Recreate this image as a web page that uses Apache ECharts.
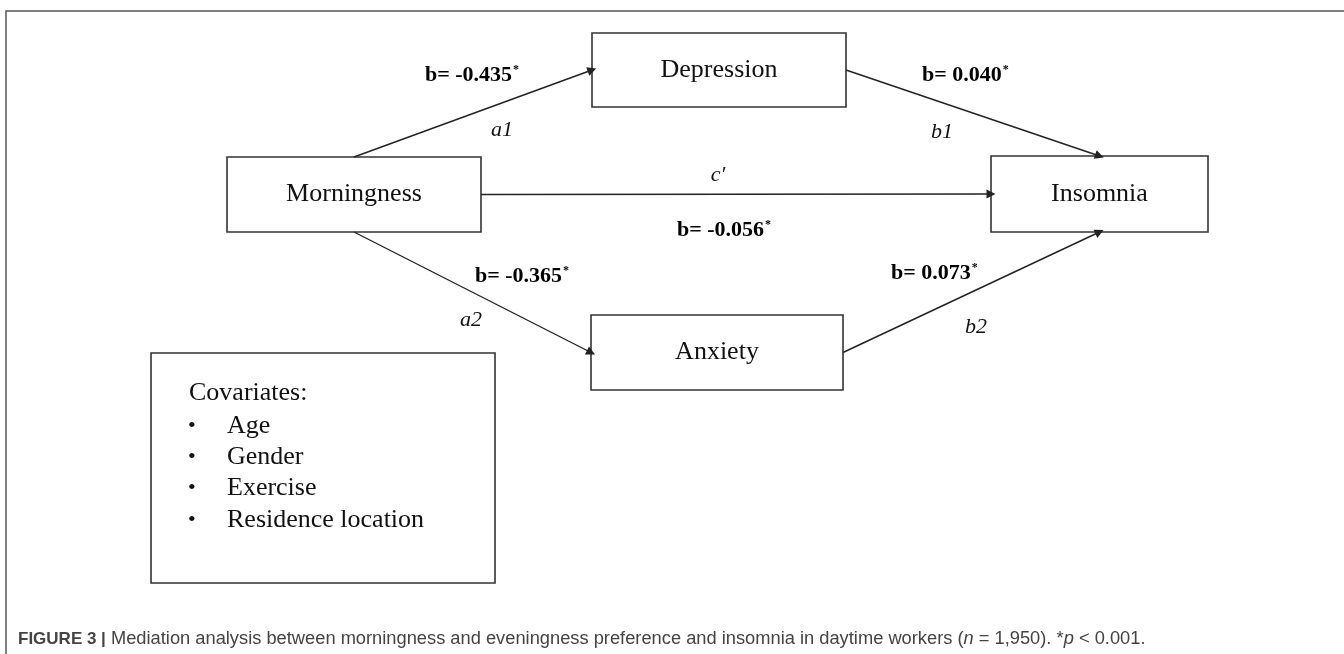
<!DOCTYPE html>
<html>
<head>
<meta charset="utf-8">
<title>Mediation analysis</title>
<script src="https://cdn.jsdelivr.net/npm/echarts@6/dist/echarts.min.js"></script>
<style>
    html, body { margin: 0; padding: 0; background: #fff; }
    #chart { width: 1344px; height: 654px; }
</style>
</head>
<body>
<div id="chart"></div>
<script>
// 变量与路径系数
var nodeNames = ['Morningness', 'Depression', 'Anxiety', 'Insomnia'];
var pathFrom = ['Morningness', 'Depression', 'Morningness', 'Morningness', 'Anxiety'];
var pathTo = ['Depression', 'Insomnia', 'Insomnia', 'Anxiety', 'Insomnia'];
var pathNames = ['a1', 'b1', 'c\u2032', 'a2', 'b2'];
var pathCoefs = [-0.435, 0.040, -0.056, -0.365, 0.073];
var covTitle = 'Covariates:';
var covariates = ['Age', 'Gender', 'Exercise', 'Residence location'];

// 布局（像素）
var W = 1344, H = 654;
var nodeBox = {
    Morningness: [227, 157, 481, 232],
    Depression: [592, 33, 846, 107],
    Anxiety: [591, 315, 843, 390],
    Insomnia: [991, 156, 1208, 232]
};
var pathSides = [['top', 'left'], ['right', 'top'], ['right', 'left'], ['bottom', 'left'], ['right', 'bottom']];
var coefPos = [[425, 75], [922, 75], [677, 230], [475, 276], [891, 273]];
var namePos = [[502, 130], [942, 132], [718, 175], [471, 320], [976, 327]];
var covBox = [151, 353, 495, 583];

var serif = "'Liberation Serif', 'Times New Roman', serif";
var sans = "'Liberation Sans', Arial, sans-serif";

function anchor(name, side) {
    var b = nodeBox[name];
    var cx = (b[0] + b[2]) / 2, cy = (b[1] + b[3]) / 2;
    if (side == 'top') return [cx, b[1]];
    if (side == 'bottom') return [cx, b[3]];
    if (side == 'left') return [b[0], cy];
    return [b[2], cy];
}

var chart = echarts.init(document.getElementById('chart'), null, {renderer: 'canvas'});

var option = {
    animation: false,
    backgroundColor: '#fff',
    grid: {left: 0, right: 0, top: 0, bottom: 0},
    xAxis: {type: 'value', min: 0, max: W, show: false},
    yAxis: {type: 'value', min: 0, max: H, inverse: true, show: false},
    graphic: [
        {
            type: 'polyline',
            shape: {points: [[6, H], [6, 11], [W, 11]]},
            style: {stroke: '#555', lineWidth: 1.5, fill: null},
            silent: true
        },
        {
            type: 'text',
            left: 18,
            top: 630,
            style: {
                text: '{b|FIGURE 3 |} Mediation analysis between morningness and eveningness preference and insomnia in daytime workers ({i|n} = 1,950). *{i|p} < 0.001.',
                font: '18.3px ' + sans,
                fill: '#444',
                rich: {
                    b: {fontFamily: sans, fontSize: 17, fontWeight: 'bold', color: '#222'},
                    i: {fontFamily: sans, fontSize: 18.3, fontStyle: 'italic', color: '#444'}
                }
            }
        }
    ],
    series: [
        {
            // 变量框
            type: 'custom',
            coordinateSystem: 'cartesian2d',
            data: nodeNames.map(function (n) { return nodeBox[n]; }),
            z: 2,
            renderItem: function (params, api) {
                var p0 = api.coord([api.value(0), api.value(1)]);
                var p1 = api.coord([api.value(2), api.value(3)]);
                return {
                    type: 'group',
                    children: [
                        {
                            type: 'rect',
                            shape: {x: p0[0], y: p0[1], width: p1[0] - p0[0], height: p1[1] - p0[1]},
                            style: {fill: '#fff', stroke: '#333', lineWidth: 1.6}
                        },
                        {
                            type: 'text',
                            x: (p0[0] + p1[0]) / 2,
                            y: (p0[1] + p1[1]) / 2,
                            style: {
                                text: nodeNames[params.dataIndex],
                                font: '26px ' + serif,
                                fill: '#111',
                                align: 'center',
                                verticalAlign: 'middle'
                            }
                        }
                    ]
                };
            }
        },
        {
            // 路径箭头
            type: 'lines',
            coordinateSystem: 'cartesian2d',
            z: 3,
            symbol: ['none', 'triangle'],
            symbolSize: 9,
            lineStyle: {color: '#222', width: 1.4, opacity: 1, curveness: 0},
            data: pathFrom.map(function (f, i) {
                return {coords: [anchor(f, pathSides[i][0]), anchor(pathTo[i], pathSides[i][1])]};
            })
        },
        {
            // 系数
            type: 'custom',
            coordinateSystem: 'cartesian2d',
            z: 4,
            data: coefPos,
            renderItem: function (params, api) {
                var p = api.coord([api.value(0), api.value(1)]);
                var v = pathCoefs[params.dataIndex];
                return {
                    type: 'text',
                    x: p[0],
                    y: p[1],
                    style: {
                        text: '{v|b= ' + v.toFixed(3) + '}{s|*}',
                        align: 'left',
                        verticalAlign: 'middle',
                        rich: {
                            v: {fontFamily: serif, fontSize: 22, fontWeight: 'bold', color: '#111'},
                            s: {fontFamily: serif, fontSize: 12, fontWeight: 'bold', color: '#111', verticalAlign: 'top', padding: [0, 0, 0, 1]}
                        }
                    }
                };
            }
        },
        {
            // 路径名
            type: 'custom',
            coordinateSystem: 'cartesian2d',
            z: 4,
            data: namePos,
            renderItem: function (params, api) {
                var p = api.coord([api.value(0), api.value(1)]);
                return {
                    type: 'text',
                    x: p[0],
                    y: p[1],
                    style: {
                        text: pathNames[params.dataIndex],
                        font: 'italic 22px ' + serif,
                        fill: '#111',
                        align: 'center',
                        verticalAlign: 'middle'
                    }
                };
            }
        },
        {
            // 协变量
            type: 'custom',
            coordinateSystem: 'cartesian2d',
            z: 2,
            data: [covBox],
            renderItem: function (params, api) {
                var p0 = api.coord([api.value(0), api.value(1)]);
                var p1 = api.coord([api.value(2), api.value(3)]);
                var children = [
                    {
                        type: 'rect',
                        shape: {x: p0[0], y: p0[1], width: p1[0] - p0[0], height: p1[1] - p0[1]},
                        style: {fill: '#fff', stroke: '#333', lineWidth: 1.6}
                    },
                    {
                        type: 'text',
                        x: p0[0] + 38,
                        y: p0[1] + 40,
                        style: {text: covTitle, font: '26px ' + serif, fill: '#111', verticalAlign: 'middle'}
                    }
                ];
                covariates.forEach(function (c, i) {
                    var y = p0[1] + 73 + i * 31.3;
                    children.push({
                        type: 'text', x: p0[0] + 37, y: y,
                        style: {text: '\u2022', font: '22px ' + serif, fill: '#111', verticalAlign: 'middle'}
                    });
                    children.push({
                        type: 'text', x: p0[0] + 76, y: y,
                        style: {text: c, font: '26px ' + serif, fill: '#111', verticalAlign: 'middle'}
                    });
                });
                return {type: 'group', children: children};
            }
        }
    ]
};
chart.setOption(option);

window.addEventListener('resize', function () {
    chart.resize();
});
</script>
</body>
</html>
